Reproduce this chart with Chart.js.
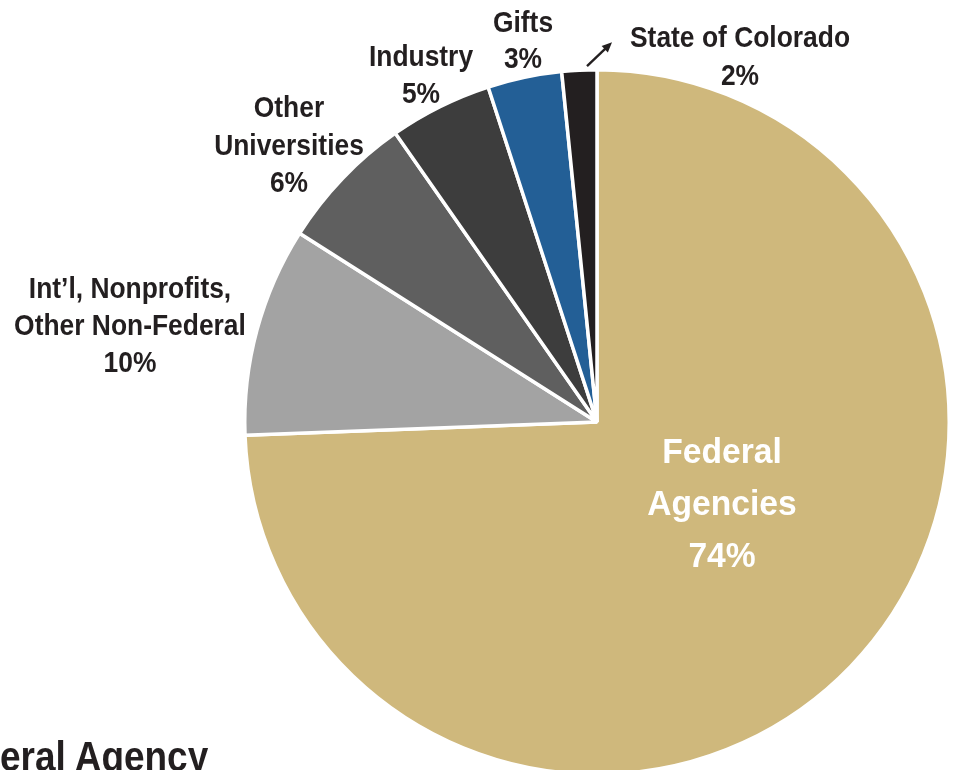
<!DOCTYPE html>
<html>
<head>
<meta charset="utf-8">
<script src="https://cdn.jsdelivr.net/npm/chart.js@4.4.1/dist/chart.umd.min.js"></script>
<style>
  html, body { margin: 0; padding: 0; background: #ffffff; overflow: hidden; width: 953px; height: 770px; }
  #wrap { position: relative; width: 953px; height: 770px; overflow: hidden; }
  #c { position: absolute; left: 0; top: 0; }
  #heading { position: absolute; right: 745px; top: 736px; font-family: "Liberation Sans", Arial, sans-serif; font-weight: bold; font-size: 42px; line-height: 42px; color: #231f20; white-space: nowrap; transform: scaleX(0.88); transform-origin: right top; }
</style>
</head>
<body>
<div id="wrap">
  <canvas id="c" width="953" height="790"></canvas>
  <div id="heading">Federal Agency</div>
</div>
<script>
// ---- data ----
const categories = ["Federal Agencies", "Int'l, Nonprofits, Other Non-Federal", "Other Universities", "Industry", "Gifts", "State of Colorado"];
const shares = [74.4, 9.6, 6.3, 4.7, 3.4, 1.6];
const shareLabels = ["74%", "10%", "6%", "5%", "3%", "2%"];
const labelLines = [["Federal", "Agencies"], ["Int\u2019l, Nonprofits,", "Other Non-Federal"], ["Other", "Universities"], ["Industry"], ["Gifts"], ["State of Colorado"]];
const sliceColors = ["#cfb87c", "#a3a3a3", "#5f5f5f", "#3d3d3d", "#235f96", "#231f20"];

const FONT = '"Liberation Sans", Arial, sans-serif';

// label layout (text placement only): center x and baseline y of first line
const labelLayout = [
  { x: 722, y: 463, size: 35, sx: 0.96, lh: 52, color: "#ffffff" },
  { x: 130, y: 298, size: 30, sx: 0.88, lh: 37, color: "#231f20" },
  { x: 289, y: 117, size: 30, sx: 0.88, lh: 37.5, color: "#231f20" },
  { x: 421, y: 66,  size: 30, sx: 0.88, lh: 37, color: "#231f20" },
  { x: 523, y: 32,  size: 30, sx: 0.88, lh: 36, color: "#231f20" },
  { x: 740, y: 47,  size: 30, sx: 0.88, lh: 38, color: "#231f20" }
];

const labelPlugin = {
  id: 'sliceLabels',
  afterDatasetsDraw(chart) {
    const ctx = chart.ctx;
    ctx.save();
    ctx.textAlign = 'center';
    ctx.textBaseline = 'alphabetic';
    labelLines.forEach((lines, i) => {
      const L = labelLayout[i];
      ctx.fillStyle = L.color;
      ctx.font = 'bold ' + L.size + 'px ' + FONT;
      const all = lines.concat([shareLabels[i]]);
      all.forEach((t, k) => {
        ctx.save();
        ctx.translate(L.x, L.y + k * L.lh);
        ctx.scale(L.sx, 1);
        ctx.fillText(t, 0, 0);
        ctx.restore();
      });
    });
    // arrow pointing from the small slice toward its label
    const arc = chart.getDatasetMeta(0).data[5];
    const mid = (arc.startAngle + arc.endAngle) / 2;
    const r0 = arc.outerRadius + 6;
    const x0 = arc.x + Math.cos(mid) * r0 + 8;
    const y0 = arc.y + Math.sin(mid) * r0 + 2;
    const x1 = x0 + 25, y1 = y0 - 24;
    ctx.strokeStyle = "#231f20";
    ctx.fillStyle = "#231f20";
    ctx.lineWidth = 2.4;
    ctx.beginPath(); ctx.moveTo(x0, y0); ctx.lineTo(x1 - 4, y1 + 4); ctx.stroke();
    const ang = Math.atan2(y1 - y0, x1 - x0);
    ctx.beginPath();
    ctx.moveTo(x1, y1);
    ctx.lineTo(x1 - 11 * Math.cos(ang - 0.42), y1 - 11 * Math.sin(ang - 0.42));
    ctx.lineTo(x1 - 11 * Math.cos(ang + 0.42), y1 - 11 * Math.sin(ang + 0.42));
    ctx.closePath(); ctx.fill();
    ctx.restore();
  }
};

new Chart(document.getElementById('c'), {
  type: 'pie',
  data: {
    labels: categories,
    datasets: [{
      data: shares,
      backgroundColor: sliceColors,
      borderColor: '#ffffff',
      borderWidth: 3.5,
      hoverOffset: 0
    }]
  },
  options: {
    responsive: false,
    animation: false,
    layout: { padding: { left: 243, right: 2, top: 68, bottom: 14 } },
    plugins: { legend: { display: false }, tooltip: { enabled: false } }
  },
  plugins: [labelPlugin]
});
</script>
</body>
</html>
